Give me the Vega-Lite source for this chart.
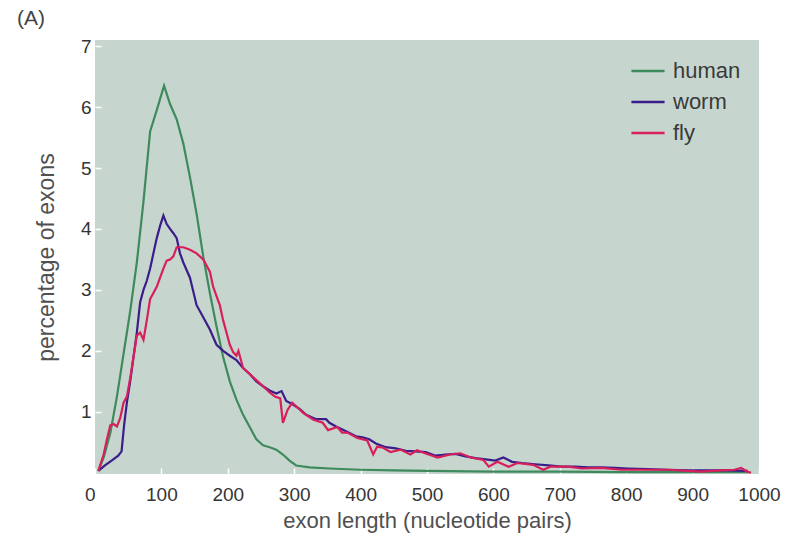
{
  "$schema": "https://vega.github.io/schema/vega-lite/v6.json",
  "width": 664,
  "height": 434,
  "autosize": {"type": "none"},
  "padding": {"left": 95, "top": 40, "right": 33, "bottom": 75},
  "background": "white",
  "title": {"text": "(A)", "anchor": "start", "frame": "group", "dx": -78, "dy": 4, "offset": 12, "fontSize": 21, "font": "Liberation Sans", "fontWeight": "normal", "color": "#444444"},
  "config": {
    "view": {"fill": "#c6d6ce", "stroke": null},
    "font": "Liberation Sans"
  },
  "datasets": {
    "exons": [
      {"species": "human", "length": 5, "pct": 0.03},
      {"species": "human", "length": 13, "pct": 0.25},
      {"species": "human", "length": 23, "pct": 0.65},
      {"species": "human", "length": 33, "pct": 1.25},
      {"species": "human", "length": 43, "pct": 1.95},
      {"species": "human", "length": 53, "pct": 2.65},
      {"species": "human", "length": 63, "pct": 3.45},
      {"species": "human", "length": 73, "pct": 4.45},
      {"species": "human", "length": 83, "pct": 5.6},
      {"species": "human", "length": 93, "pct": 5.95},
      {"species": "human", "length": 104, "pct": 6.35},
      {"species": "human", "length": 113, "pct": 6.05},
      {"species": "human", "length": 123, "pct": 5.8},
      {"species": "human", "length": 133, "pct": 5.4},
      {"species": "human", "length": 143, "pct": 4.85},
      {"species": "human", "length": 153, "pct": 4.25},
      {"species": "human", "length": 163, "pct": 3.55},
      {"species": "human", "length": 173, "pct": 2.95},
      {"species": "human", "length": 183, "pct": 2.4},
      {"species": "human", "length": 193, "pct": 1.9},
      {"species": "human", "length": 203, "pct": 1.5},
      {"species": "human", "length": 213, "pct": 1.2},
      {"species": "human", "length": 223, "pct": 0.95},
      {"species": "human", "length": 233, "pct": 0.75},
      {"species": "human", "length": 243, "pct": 0.55},
      {"species": "human", "length": 253, "pct": 0.45},
      {"species": "human", "length": 263, "pct": 0.42},
      {"species": "human", "length": 273, "pct": 0.38},
      {"species": "human", "length": 283, "pct": 0.3},
      {"species": "human", "length": 293, "pct": 0.2},
      {"species": "human", "length": 303, "pct": 0.12},
      {"species": "human", "length": 323, "pct": 0.09},
      {"species": "human", "length": 353, "pct": 0.07},
      {"species": "human", "length": 400, "pct": 0.05},
      {"species": "human", "length": 450, "pct": 0.04},
      {"species": "human", "length": 500, "pct": 0.03},
      {"species": "human", "length": 600, "pct": 0.02},
      {"species": "human", "length": 700, "pct": 0.02},
      {"species": "human", "length": 800, "pct": 0.01},
      {"species": "human", "length": 900, "pct": 0.01},
      {"species": "human", "length": 985, "pct": 0.01},

      {"species": "worm", "length": 5, "pct": 0.03},
      {"species": "worm", "length": 15, "pct": 0.12},
      {"species": "worm", "length": 25, "pct": 0.2},
      {"species": "worm", "length": 35, "pct": 0.28},
      {"species": "worm", "length": 40, "pct": 0.35},
      {"species": "worm", "length": 44, "pct": 0.8},
      {"species": "worm", "length": 48, "pct": 1.15},
      {"species": "worm", "length": 53, "pct": 1.5},
      {"species": "worm", "length": 58, "pct": 1.9},
      {"species": "worm", "length": 63, "pct": 2.3},
      {"species": "worm", "length": 68, "pct": 2.8},
      {"species": "worm", "length": 73, "pct": 3.0},
      {"species": "worm", "length": 78, "pct": 3.15},
      {"species": "worm", "length": 83, "pct": 3.35},
      {"species": "worm", "length": 88, "pct": 3.6},
      {"species": "worm", "length": 93, "pct": 3.85},
      {"species": "worm", "length": 98, "pct": 4.05},
      {"species": "worm", "length": 103, "pct": 4.22},
      {"species": "worm", "length": 108, "pct": 4.08},
      {"species": "worm", "length": 113, "pct": 4.0},
      {"species": "worm", "length": 118, "pct": 3.93},
      {"species": "worm", "length": 123, "pct": 3.85},
      {"species": "worm", "length": 128, "pct": 3.6},
      {"species": "worm", "length": 133, "pct": 3.45},
      {"species": "worm", "length": 143, "pct": 3.2},
      {"species": "worm", "length": 153, "pct": 2.75},
      {"species": "worm", "length": 163, "pct": 2.55},
      {"species": "worm", "length": 173, "pct": 2.35},
      {"species": "worm", "length": 183, "pct": 2.1},
      {"species": "worm", "length": 193, "pct": 2.0},
      {"species": "worm", "length": 203, "pct": 1.92},
      {"species": "worm", "length": 213, "pct": 1.85},
      {"species": "worm", "length": 223, "pct": 1.72},
      {"species": "worm", "length": 233, "pct": 1.62},
      {"species": "worm", "length": 243, "pct": 1.5},
      {"species": "worm", "length": 253, "pct": 1.42},
      {"species": "worm", "length": 263, "pct": 1.35},
      {"species": "worm", "length": 273, "pct": 1.3},
      {"species": "worm", "length": 281, "pct": 1.34},
      {"species": "worm", "length": 288, "pct": 1.18},
      {"species": "worm", "length": 298, "pct": 1.12},
      {"species": "worm", "length": 308, "pct": 1.05},
      {"species": "worm", "length": 318, "pct": 0.95},
      {"species": "worm", "length": 333, "pct": 0.88},
      {"species": "worm", "length": 348, "pct": 0.88},
      {"species": "worm", "length": 353, "pct": 0.82},
      {"species": "worm", "length": 363, "pct": 0.76},
      {"species": "worm", "length": 378, "pct": 0.68},
      {"species": "worm", "length": 393, "pct": 0.6},
      {"species": "worm", "length": 403, "pct": 0.58},
      {"species": "worm", "length": 413, "pct": 0.55},
      {"species": "worm", "length": 423, "pct": 0.48},
      {"species": "worm", "length": 438, "pct": 0.42},
      {"species": "worm", "length": 453, "pct": 0.4},
      {"species": "worm", "length": 468, "pct": 0.36},
      {"species": "worm", "length": 483, "pct": 0.35},
      {"species": "worm", "length": 498, "pct": 0.34},
      {"species": "worm", "length": 513, "pct": 0.28},
      {"species": "worm", "length": 528, "pct": 0.3},
      {"species": "worm", "length": 543, "pct": 0.31},
      {"species": "worm", "length": 558, "pct": 0.27},
      {"species": "worm", "length": 573, "pct": 0.24},
      {"species": "worm", "length": 588, "pct": 0.22},
      {"species": "worm", "length": 603, "pct": 0.2},
      {"species": "worm", "length": 615, "pct": 0.25},
      {"species": "worm", "length": 628, "pct": 0.18},
      {"species": "worm", "length": 643, "pct": 0.16},
      {"species": "worm", "length": 663, "pct": 0.14},
      {"species": "worm", "length": 683, "pct": 0.12},
      {"species": "worm", "length": 703, "pct": 0.1},
      {"species": "worm", "length": 723, "pct": 0.1},
      {"species": "worm", "length": 743, "pct": 0.09},
      {"species": "worm", "length": 763, "pct": 0.09},
      {"species": "worm", "length": 783, "pct": 0.08},
      {"species": "worm", "length": 803, "pct": 0.07},
      {"species": "worm", "length": 833, "pct": 0.06},
      {"species": "worm", "length": 863, "pct": 0.05},
      {"species": "worm", "length": 893, "pct": 0.04},
      {"species": "worm", "length": 923, "pct": 0.04},
      {"species": "worm", "length": 953, "pct": 0.04},
      {"species": "worm", "length": 983, "pct": 0.03},

      {"species": "fly", "length": 5, "pct": 0.03},
      {"species": "fly", "length": 13, "pct": 0.3},
      {"species": "fly", "length": 18, "pct": 0.55},
      {"species": "fly", "length": 23, "pct": 0.78},
      {"species": "fly", "length": 28, "pct": 0.8},
      {"species": "fly", "length": 33, "pct": 0.76},
      {"species": "fly", "length": 38, "pct": 0.9},
      {"species": "fly", "length": 43, "pct": 1.15},
      {"species": "fly", "length": 48, "pct": 1.25},
      {"species": "fly", "length": 53, "pct": 1.55},
      {"species": "fly", "length": 58, "pct": 1.9},
      {"species": "fly", "length": 63, "pct": 2.25},
      {"species": "fly", "length": 68, "pct": 2.3},
      {"species": "fly", "length": 73, "pct": 2.18},
      {"species": "fly", "length": 78, "pct": 2.5},
      {"species": "fly", "length": 83, "pct": 2.85},
      {"species": "fly", "length": 88, "pct": 2.95},
      {"species": "fly", "length": 93, "pct": 3.05},
      {"species": "fly", "length": 98, "pct": 3.2},
      {"species": "fly", "length": 103, "pct": 3.35},
      {"species": "fly", "length": 108, "pct": 3.48},
      {"species": "fly", "length": 113, "pct": 3.5},
      {"species": "fly", "length": 118, "pct": 3.55},
      {"species": "fly", "length": 123, "pct": 3.7},
      {"species": "fly", "length": 133, "pct": 3.7},
      {"species": "fly", "length": 143, "pct": 3.66},
      {"species": "fly", "length": 153, "pct": 3.6},
      {"species": "fly", "length": 163, "pct": 3.5},
      {"species": "fly", "length": 168, "pct": 3.4},
      {"species": "fly", "length": 173, "pct": 3.3},
      {"species": "fly", "length": 178, "pct": 3.05},
      {"species": "fly", "length": 183, "pct": 2.9},
      {"species": "fly", "length": 188, "pct": 2.75},
      {"species": "fly", "length": 193, "pct": 2.5},
      {"species": "fly", "length": 198, "pct": 2.3},
      {"species": "fly", "length": 203, "pct": 2.1},
      {"species": "fly", "length": 208, "pct": 1.98},
      {"species": "fly", "length": 213, "pct": 1.92},
      {"species": "fly", "length": 216, "pct": 2.0},
      {"species": "fly", "length": 223, "pct": 1.72},
      {"species": "fly", "length": 233, "pct": 1.62},
      {"species": "fly", "length": 243, "pct": 1.52},
      {"species": "fly", "length": 253, "pct": 1.42},
      {"species": "fly", "length": 263, "pct": 1.32},
      {"species": "fly", "length": 271, "pct": 1.25},
      {"species": "fly", "length": 279, "pct": 1.22},
      {"species": "fly", "length": 283, "pct": 0.82},
      {"species": "fly", "length": 290, "pct": 1.03},
      {"species": "fly", "length": 297, "pct": 1.15},
      {"species": "fly", "length": 304, "pct": 1.08},
      {"species": "fly", "length": 314, "pct": 0.98},
      {"species": "fly", "length": 329, "pct": 0.87},
      {"species": "fly", "length": 343, "pct": 0.82},
      {"species": "fly", "length": 351, "pct": 0.7},
      {"species": "fly", "length": 365, "pct": 0.75},
      {"species": "fly", "length": 372, "pct": 0.66},
      {"species": "fly", "length": 380, "pct": 0.66},
      {"species": "fly", "length": 395, "pct": 0.57},
      {"species": "fly", "length": 410, "pct": 0.53},
      {"species": "fly", "length": 419, "pct": 0.3},
      {"species": "fly", "length": 425, "pct": 0.43},
      {"species": "fly", "length": 434, "pct": 0.41},
      {"species": "fly", "length": 445, "pct": 0.34},
      {"species": "fly", "length": 460, "pct": 0.38},
      {"species": "fly", "length": 475, "pct": 0.3},
      {"species": "fly", "length": 485, "pct": 0.37},
      {"species": "fly", "length": 495, "pct": 0.33},
      {"species": "fly", "length": 516, "pct": 0.25},
      {"species": "fly", "length": 535, "pct": 0.3},
      {"species": "fly", "length": 550, "pct": 0.32},
      {"species": "fly", "length": 566, "pct": 0.25},
      {"species": "fly", "length": 585, "pct": 0.21},
      {"species": "fly", "length": 593, "pct": 0.1},
      {"species": "fly", "length": 606, "pct": 0.18},
      {"species": "fly", "length": 623, "pct": 0.1},
      {"species": "fly", "length": 636, "pct": 0.16},
      {"species": "fly", "length": 660, "pct": 0.13},
      {"species": "fly", "length": 675, "pct": 0.05},
      {"species": "fly", "length": 686, "pct": 0.1},
      {"species": "fly", "length": 712, "pct": 0.1},
      {"species": "fly", "length": 733, "pct": 0.07},
      {"species": "fly", "length": 762, "pct": 0.08},
      {"species": "fly", "length": 793, "pct": 0.05},
      {"species": "fly", "length": 811, "pct": 0.05},
      {"species": "fly", "length": 843, "pct": 0.05},
      {"species": "fly", "length": 863, "pct": 0.05},
      {"species": "fly", "length": 893, "pct": 0.03},
      {"species": "fly", "length": 912, "pct": 0.02},
      {"species": "fly", "length": 943, "pct": 0.04},
      {"species": "fly", "length": 963, "pct": 0.05},
      {"species": "fly", "length": 973, "pct": 0.08},
      {"species": "fly", "length": 982, "pct": 0.02},
      {"species": "fly", "length": 988, "pct": 0.0}
    ]
  },
  "data": {"name": "exons"},
  "mark": {"type": "line", "strokeWidth": 2.2, "clip": true},
  "encoding": {
    "x": {
      "field": "length", "type": "quantitative",
      "scale": {"domain": [0, 1000], "nice": false, "zero": false},
      "axis": {
        "title": "exon length (nucleotide pairs)",
        "values": [0, 100, 200, 300, 400, 500, 600, 700, 800, 900, 1000],
        "format": "d",
        "domain": false, "grid": false,
        "tickColor": "white", "tickSize": -6, "tickWidth": 1.5,
        "labelFontSize": 19, "labelColor": "#353535", "labelPadding": 17,
        "labelAlign": {"condition": {"test": "datum.value === 0", "value": "right"}, "value": "center"},
        "labelFlush": false, "labelOverlap": false,
        "titleFontSize": 22, "titleFontWeight": "normal", "titleColor": "#505050", "titlePadding": 6
      }
    },
    "y": {
      "field": "pct", "type": "quantitative",
      "scale": {"domain": [-0.02, 7.1], "nice": false, "zero": false},
      "axis": {
        "title": "percentage of exons",
        "values": [1, 2, 3, 4, 5, 6, 7],
        "domain": false, "grid": false,
        "tickColor": "white", "tickSize": -6, "tickWidth": 1.5,
        "labelFontSize": 19, "labelColor": "#353535", "labelPadding": 10,
        "labelFlush": false, "labelOverlap": false,
        "titleFontSize": 23, "titleFontWeight": "normal", "titleColor": "#505050", "titlePadding": 22
      }
    },
    "color": {
      "field": "species", "type": "nominal",
      "scale": {"domain": ["human", "worm", "fly"], "range": ["#3e8a5c", "#3b1d8a", "#d81f5a"]},
      "legend": {
        "title": null, "orient": "none", "legendX": 535, "legendY": 13,
        "symbolType": "stroke", "symbolSize": 1100, "symbolStrokeWidth": 2.5,
        "labelFontSize": 22, "labelColor": "#3a3a3a", "labelOffset": 7,
        "rowPadding": 2, "padding": 0
      }
    }
  }
}
